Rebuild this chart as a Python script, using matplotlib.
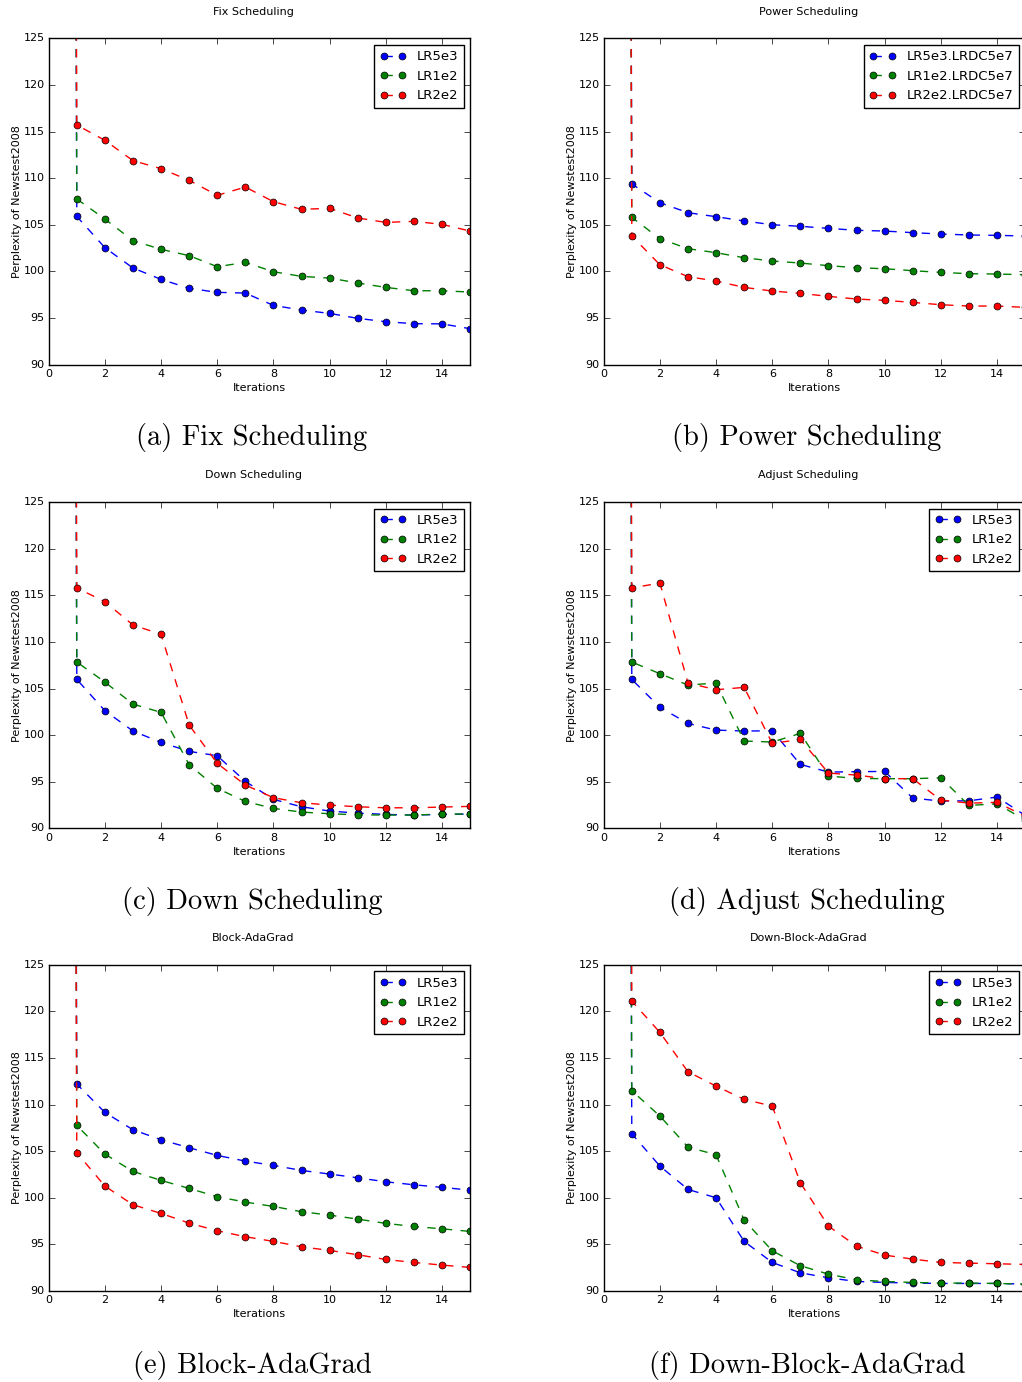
import matplotlib
matplotlib.use("Agg")
import matplotlib.pyplot as plt

plt.style.use("classic")

# iteration 0 is far above the plotted range (lines come in from the top)
iterations = list(range(0, 16))
init_ppl = 1000.0

labels = ["LR5e3", "LR1e2", "LR2e2"]
labels_power = ["LR5e3.LRDC5e7", "LR1e2.LRDC5e7", "LR2e2.LRDC5e7"]

fix_lr5e3 = [105.9, 102.55, 100.37, 99.15, 98.19, 97.76, 97.68, 96.36, 95.86, 95.5, 94.97, 94.61, 94.4, 94.38, 93.86]
fix_lr1e2 = [107.77, 105.62, 103.3, 102.37, 101.69, 100.51, 100.97, 99.97, 99.47, 99.29, 98.76, 98.29, 97.93, 97.93, 97.79]
fix_lr2e2 = [115.7, 114.06, 111.88, 111.02, 109.77, 108.16, 109.05, 107.48, 106.66, 106.77, 105.73, 105.26, 105.37, 105.05, 104.33]

power_lr5e3 = [109.38, 107.37, 106.3, 105.87, 105.41, 105.01, 104.84, 104.62, 104.41, 104.33, 104.16, 104.01, 103.91, 103.87, 103.8]
power_lr1e2 = [105.8, 103.51, 102.44, 102.01, 101.47, 101.12, 100.9, 100.62, 100.4, 100.29, 100.08, 99.9, 99.76, 99.72, 99.65]
power_lr2e2 = [103.8, 100.72, 99.44, 98.97, 98.29, 97.9, 97.65, 97.33, 97.04, 96.9, 96.68, 96.43, 96.29, 96.29, 96.15]

down_lr5e3 = [105.98, 102.62, 100.44, 99.22, 98.26, 97.79, 95.04, 93.11, 92.32, 91.86, 91.64, 91.5, 91.43, 91.5, 91.54]
down_lr1e2 = [107.84, 105.69, 103.33, 102.44, 96.83, 94.29, 92.89, 92.14, 91.75, 91.57, 91.46, 91.43, 91.43, 91.54, 91.54]
down_lr2e2 = [115.78, 114.31, 111.81, 110.81, 101.08, 96.97, 94.65, 93.29, 92.75, 92.5, 92.32, 92.21, 92.21, 92.29, 92.36]

adjust_lr5e3 = [105.98, 102.98, 101.26, 100.54, 100.44, 100.47, 96.86, 96.04, 96.08, 96.11, 93.25, 92.93, 92.96, 93.36, 91.4]
adjust_lr1e2 = [107.84, 106.59, 105.37, 105.59, 99.37, 99.26, 100.19, 95.61, 95.36, 95.33, 95.33, 95.43, 92.46, 92.64, 90.9]
adjust_lr2e2 = [115.78, 116.31, 105.59, 104.87, 105.12, 99.11, 99.54, 95.93, 95.72, 95.33, 95.33, 93.04, 92.71, 92.79, 91.3]

block_lr5e3 = [112.2, 109.16, 107.3, 106.23, 105.37, 104.55, 103.94, 103.48, 102.94, 102.55, 102.15, 101.72, 101.4, 101.12, 100.83]
block_lr1e2 = [107.77, 104.69, 102.83, 101.87, 101.01, 100.12, 99.54, 99.08, 98.51, 98.15, 97.72, 97.26, 96.93, 96.68, 96.4]
block_lr2e2 = [104.84, 101.26, 99.26, 98.33, 97.29, 96.47, 95.83, 95.33, 94.75, 94.36, 93.9, 93.39, 93.07, 92.79, 92.54]

dblock_lr5e3 = [106.87, 103.41, 100.9, 100.01, 95.33, 93.07, 91.96, 91.43, 91.03, 90.93, 90.86, 90.82, 90.82, 90.82, 90.75]
dblock_lr1e2 = [111.49, 108.77, 105.44, 104.62, 97.61, 94.32, 92.72, 91.82, 91.21, 91.03, 90.93, 90.86, 90.86, 90.82, 90.75]
dblock_lr2e2 = [121.1, 117.74, 113.52, 111.98, 110.56, 109.84, 101.62, 96.97, 94.82, 93.86, 93.43, 93.07, 93.0, 92.93, 92.86]

titles = ["Fix Scheduling", "Power Scheduling", "Down Scheduling",
          "Adjust Scheduling", "Block-AdaGrad", "Down-Block-AdaGrad"]
captions = ["(a) Fix Scheduling", "(b) Power Scheduling", "(c) Down Scheduling",
            "(d) Adjust Scheduling", "(e) Block-AdaGrad", "(f) Down-Block-AdaGrad"]
series = [
    [fix_lr5e3, fix_lr1e2, fix_lr2e2],
    [power_lr5e3, power_lr1e2, power_lr2e2],
    [down_lr5e3, down_lr1e2, down_lr2e2],
    [adjust_lr5e3, adjust_lr1e2, adjust_lr2e2],
    [block_lr5e3, block_lr1e2, block_lr2e2],
    [dblock_lr5e3, dblock_lr1e2, dblock_lr2e2],
]
colors = ["b", "g", "r"]

W, H = 1022, 1382
fig = plt.figure(figsize=(W / 100, H / 100), dpi=100, facecolor="white")

# axes boxes in pixels: left, top, width, height
col_left = [48.7, 603.7]
row_top = [38.3, 502.0, 964.7]
ax_w, ax_h = 421.4, 326.4
caption_y = [438, 902, 1365]
caption_x = [252, 807]

for i in range(6):
    r, c = divmod(i, 2)
    ax = fig.add_axes([col_left[c] / W, 1 - (row_top[r] + ax_h) / H, ax_w / W, ax_h / H])
    labs = labels_power if i == 1 else labels
    for vals, col, lab in zip(series[i], colors, labs):
        ax.plot(iterations, [init_ppl] + vals, "--o", color=col, label=lab,
                markersize=5, markeredgewidth=0.5, markeredgecolor="k", linewidth=1)
    ax.set_xlim(0, 15)
    ax.set_ylim(90, 125)
    ax.set_xticks(range(0, 15, 2))
    ax.set_yticks(range(90, 126, 5))
    ax.tick_params(labelsize=8, pad=3)
    ax.set_title(titles[i], fontsize=8, pad=17, x=0.486)
    ax.set_xlabel("Iterations", fontsize=8, labelpad=3)
    ax.set_ylabel("Perplexity of Newstest2008", fontsize=8, labelpad=1)
    ax.legend(loc="upper right", fontsize=9.5, numpoints=2)
    fig.text(caption_x[c] / W, 1 - caption_y[r] / H, captions[i],
             fontname="cmr10", fontsize=20.5, ha="center", va="center")

fig.savefig("out.png", dpi=100, facecolor="white")
